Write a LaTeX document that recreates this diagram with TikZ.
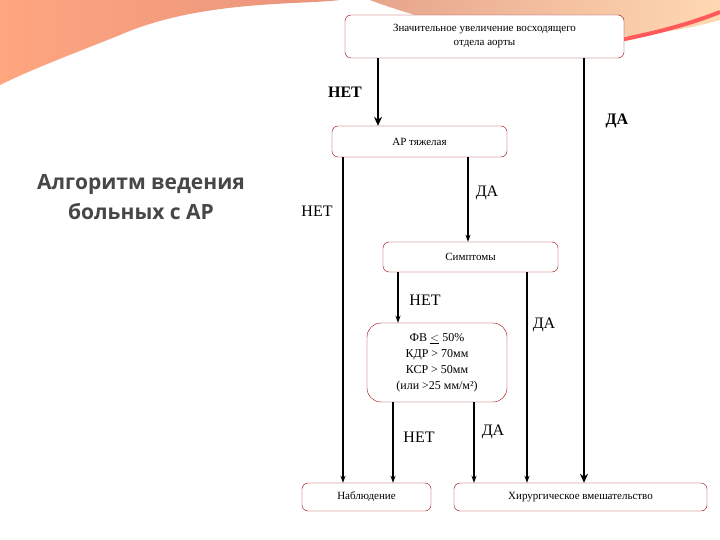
\documentclass[tikz,border=0pt]{standalone}
\usepackage{fontspec}
\setmainfont{Liberation Serif}
\newfontfamily\titlefont{Open Sans}
\usetikzlibrary{arrows.meta}
\begin{document}
\begin{tikzpicture}[x=1pt,y=-1pt,
  box/.style={draw=red!60!black,fill=white,rounded corners=6pt,inner sep=2pt,font=\fontsize{11}{14}\selectfont,align=center},
  thin/.style={line width=1.2pt,-{Stealth[length=7pt,width=5pt]}},
  thick/.style={line width=2.8pt,-{Stealth[length=9pt,width=8pt]}},
  lbl/.style={font=\fontsize{16}{18}\selectfont},
  blbl/.style={font=\bfseries\fontsize{16}{18}\selectfont}]
\useasboundingbox (0,0) rectangle (720,540);
\fill[white] (0,0) rectangle (720,540);
% decoration
\shade[left color=orange!60!red!50,right color=red!40!brown!60] (0,0) -- (340,0) .. controls (300,5) and (200,0) .. (120,35) .. controls (70,55) and (30,70) .. (0,85) -- cycle;
\shade[left color=red!30!brown!55,right color=orange!30] (370,0) -- (720,0) -- (720,20) .. controls (650,40) and (550,45) .. (470,30) .. controls (430,20) and (390,8) .. (370,0) -- cycle;
\draw[red!65,line width=4pt] (620,40) .. controls (670,30) and (700,20) .. (720,12);
% nodes
\node[box,minimum width=279pt,minimum height=43pt] (top) at (484.5,36.5) {Значительное увеличение восходящего\\отдела аорты};
\node[box,minimum width=175pt,minimum height=31pt] (ar) at (419.5,141.5) {АР тяжелая};
\node[box,minimum width=175pt,minimum height=30pt] (sym) at (470.5,257) {Симптомы};
\node[box,rounded corners=14pt,minimum width=140pt,minimum height=79pt,font=\fontsize{12}{16}\selectfont] (fv) at (437,362.5) {ФВ $\underline{<}$ 50\%\\КДР > 70мм\\КСР > 50мм\\(или >25 мм/м²)};
\node[box,minimum width=129pt,minimum height=28pt] (nab) at (366.5,497) {Наблюдение};
\node[box,minimum width=253pt,minimum height=28pt] (hir) at (580.5,497) {Хирургическое вмешательство};
\node[font=\titlefont\bfseries\fontsize{21}{30}\selectfont,text=black!72,align=center] (title) at (141,197) {Алгоритм ведения\\больных с АР};
% connectors
\draw[thick] (top.south -| 378,0) -- (ar.north -| 378,0);
\draw[thick] (top.south -| 584,0) -- (hir.north -| 584,0);
\draw[thin] (ar.south -| 343,0) -- (nab.north -| 343,0);
\draw[thin] (ar.south -| 468,0) -- (sym.north -| 468,0);
\draw[thin] (sym.south -| 398,0) -- (fv.north -| 398,0);
\draw[thin] (sym.south -| 527,0) -- (hir.north -| 527,0);
\draw[thin] (fv.south -| 393,0) -- (nab.north -| 393,0);
\draw[thin] (fv.south -| 474,0) -- (hir.north -| 474,0);
% labels
\node[blbl] (l1) at (345,92) {НЕТ};
\node[blbl] (l2) at (617,121) {ДА};
\node[lbl] (l3) at (317,211) {НЕТ};
\node[lbl] (l4) at (487,193) {ДА};
\node[lbl] (l5) at (425,300) {НЕТ};
\node[lbl] (l6) at (544,325) {ДА};
\node[lbl] (l7) at (419,437) {НЕТ};
\node[lbl] (l8) at (493,432) {ДА};
\end{tikzpicture}
\end{document}
